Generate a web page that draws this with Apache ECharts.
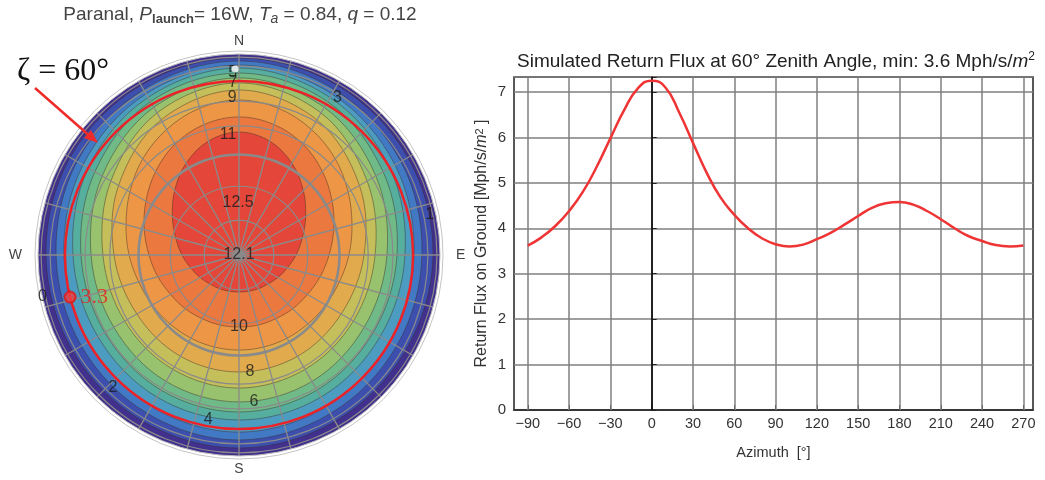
<!DOCTYPE html>
<html>
<head>
<meta charset="utf-8">
<script src="https://cdn.jsdelivr.net/npm/echarts@6/dist/echarts.min.js"></script>
<style>
  html, body { margin: 0; background: #fff; }
  #chart { width: 1045px; height: 480px; }
</style>
</head>
<body>
<div id="chart"></div>
<script>
// ---- right panel: return flux along the 60 deg zenith circle ----
const AZIMUTH = [-90, -80, -70, -60, -50, -40, -30, -20, -10, 0, 10, 20, 30, 40, 50, 60, 70, 80, 90,
  100, 110, 120, 130, 140, 150, 160, 170, 180, 190, 200, 210, 220, 230, 240, 250, 260, 270];
const FLUX = [3.62, 3.8, 4.05, 4.38, 4.8, 5.35, 5.98, 6.6, 7.08, 7.25, 7.1, 6.55, 5.88, 5.22, 4.68, 4.3, 4.0, 3.78, 3.65,
  3.6, 3.64, 3.76, 3.9, 4.08, 4.27, 4.45, 4.55, 4.58, 4.52, 4.38, 4.2, 4.0, 3.83, 3.72, 3.63, 3.6, 3.62];
const X_TICKS = [-90, -60, -30, 0, 30, 60, 90, 120, 150, 180, 210, 240, 270];

// ---- left panel: filled contours (level k = region with flux >= k),
// radius = sin(zenith); outer levels read every 30 deg of azimuth, inner ones every 15 deg ----
const AZ_30 = [0, 30, 60, 90, 120, 150, 180, 210, 240, 270, 300, 330];
const AZ_15 = [0, 15, 30, 45, 60, 75, 90, 105, 120, 135, 150, 165, 180,
  195, 210, 225, 240, 255, 270, 285, 300, 315, 330, 345];
const LEVELS = [0, 1, 2, 3, 4, 5, 6, 7, 8, 9, 10, 11];
const LEVEL_COLORS = ['#42308e', '#3c4fae', '#4279c4', '#4c9cc2', '#56ae9f', '#6fba87',
  '#98c26d', '#c5bf5b', '#e1ab4d', '#ed9646', '#eb783e', '#e4473a'];
const CONTOUR_R = [
  [1, 1, 1, 1, 1, 1, 1, 1, 1, 1, 1, 1],
  [0.980, 0.975, 0.970, 0.965, 0.955, 0.955, 0.960, 0.955, 0.955, 0.960, 0.970, 0.975],
  [0.965, 0.950, 0.930, 0.910, 0.905, 0.910, 0.920, 0.910, 0.905, 0.910, 0.930, 0.950],
  [0.945, 0.925, 0.896, 0.871, 0.866, 0.871, 0.881, 0.871, 0.866, 0.871, 0.896, 0.925],
  [0.930, 0.905, 0.866, 0.826, 0.811, 0.816, 0.821, 0.816, 0.811, 0.826, 0.866, 0.905],
  [0.905, 0.881, 0.828, 0.786, 0.771, 0.776, 0.781, 0.776, 0.771, 0.786, 0.828, 0.881],
  [0.881, 0.848, 0.786, 0.736, 0.719, 0.726, 0.731, 0.726, 0.719, 0.736, 0.786, 0.848],
  [0.856, 0.816, 0.736, 0.677, 0.657, 0.657, 0.662, 0.657, 0.657, 0.677, 0.736, 0.816],
  [0.821, 0.776, 0.692, 0.622, 0.587, 0.582, 0.582, 0.582, 0.587, 0.622, 0.692, 0.776],
  [0.771, 0.756, 0.721, 0.677, 0.627, 0.582, 0.547, 0.517, 0.498, 0.485, 0.478, 0.474, 0.473,
    0.474, 0.478, 0.485, 0.498, 0.517, 0.547, 0.582, 0.627, 0.677, 0.721, 0.756],
  [0.687, 0.672, 0.637, 0.587, 0.535, 0.488, 0.448, 0.418, 0.393, 0.378, 0.366, 0.361, 0.358,
    0.361, 0.366, 0.378, 0.393, 0.418, 0.448, 0.488, 0.535, 0.587, 0.637, 0.672],
  [0.612, 0.587, 0.527, 0.453, 0.383, 0.326, 0.284, 0.249, 0.224, 0.204, 0.194, 0.187, 0.184,
    0.187, 0.194, 0.204, 0.224, 0.249, 0.284, 0.326, 0.383, 0.453, 0.527, 0.587]
];
const GRID_ZENITH = [10, 20, 30, 40, 50, 60, 70, 80];
const ZETA = 60;

// "7" first so that "5" sits on top of it, as in the original
const LABEL_TEXT = ['7', '0', '1', '2', '3', '4', '5', '6', '8', '9', '10', '11', '12.5', '12.1'];
const LABEL_R = [0.858, 1.0, 0.971, 0.911, 0.925, 0.835, 0.906, 0.735, 0.585, 0.782, 0.358, 0.6, 0.259, 0];
const LABEL_AZ = [358, 258, 78, 223.5, 32, 190.6, 358, 174.2, 174.6, 357.5, 180, 354.8, 359, 0];

const MIN_POINT = [0.866, 256];
const MIN_TEXT = '3.3';
const TOP_POINT = [0.925, 358.8];
const COMPASS = { 0: 'N', 90: '{e|E}', 180: 'S', 270: '{w|W}' };

const chart = echarts.init(document.getElementById('chart'));
const rad = (d) => d * Math.PI / 180;

// circle of given projected radius around the pole
function circleItem(api, r, style) {
  const c = api.coord([0, 0]);
  const p = api.coord([r, 0]);
  return { type: 'circle', shape: { cx: c[0], cy: c[1], r: Math.abs(c[1] - p[1]) }, style: style };
}

const option = {
  animation: false,
  textStyle: { fontFamily: 'Liberation Sans, Arial, sans-serif' },
  polar: { center: [239, 255], radius: 201 },
  angleAxis: {
    type: 'value', min: 0, max: 360, interval: 15, startAngle: 90, clockwise: true, z: 5,
    axisLine: { show: true, lineStyle: { color: '#bdbdbd', width: 1 } },
    axisTick: { show: false },
    splitLine: { show: true, lineStyle: { color: '#8a8a8a', width: 1.3 } },
    axisLabel: {
      margin: 6, color: '#444', fontSize: 14,
      formatter: (v) => (v < 360 && COMPASS[v]) ? COMPASS[v] : '',
      rich: {
        e: { fontSize: 14, color: '#444', padding: [0, 0, 0, 10] },
        w: { fontSize: 14, color: '#444', padding: [0, 10, 0, 0] }
      }
    }
  },
  radiusAxis: { type: 'value', min: 0, max: 1, show: false },
  grid: {
    left: 514, right: 12, top: 77, bottom: 70,
    show: true, borderColor: '#222', borderWidth: 1.5
  },
  xAxis: {
    type: 'value', min: -100, max: 277,
    name: 'Azimuth  [°]', nameLocation: 'middle', nameGap: 35,
    nameTextStyle: { fontSize: 14.5, color: '#333' },
    axisLine: { lineStyle: { color: '#222', width: 1.5 } },
    axisTick: { show: true, inside: true, length: 5, customValues: X_TICKS, lineStyle: { color: '#222' } },
    axisLabel: {
      customValues: X_TICKS, fontSize: 14.5, color: '#333', margin: 6,
      formatter: (v) => v < 0 ? '\u2212' + (-v) : String(v)
    },
    splitLine: { show: false }
  },
  yAxis: {
    type: 'value', min: 0, max: 7.33, interval: 1,
    name: '{n|Return Flux on Ground [Mph/s/}{i|m}{s|2}{n| ]}',
    nameLocation: 'middle', nameGap: 24,
    nameTextStyle: {
      color: '#333',
      rich: {
        n: { fontSize: 16, color: '#333' },
        i: { fontSize: 16, color: '#333', fontStyle: 'italic' },
        s: { fontSize: 11, color: '#333', verticalAlign: 'top', lineHeight: 11 }
      }
    },
    axisLine: { show: true, lineStyle: { color: '#222', width: 1.5 } },
    axisTick: { show: true, inside: true, length: 5, lineStyle: { color: '#222' } },
    axisLabel: {
      fontSize: 15, color: '#333', margin: 8,
      formatter: (v) => Number.isInteger(v) ? String(v) : ''
    },
    splitLine: { show: true, lineStyle: { color: '#7f7f7f', width: 1.5 } }
  },
  graphic: [
    {
      type: 'text', x: 240, y: 15, z: 10,
      style: {
        text: '{n|Paranal, }{i|P}{b|launch}{n|= 16W, }{i|T}{j|a}{n| = 0.84, }{i|q}{n| = 0.12}',
        align: 'center', verticalAlign: 'middle',
        rich: {
          n: { fontSize: 19, fill: '#444', lineHeight: 22 },
          i: { fontSize: 19, fill: '#444', fontStyle: 'italic', lineHeight: 22 },
          b: { fontSize: 13, fill: '#444', fontWeight: 'bold', verticalAlign: 'bottom', lineHeight: 16 },
          j: { fontSize: 14, fill: '#444', fontStyle: 'italic', verticalAlign: 'bottom', lineHeight: 16 }
        }
      }
    },
    {
      type: 'text', x: 776, y: 62, z: 10,
      style: {
        text: '{n|Simulated Return Flux at 60° Zenith Angle, min: 3.6 Mph/s/}{i|m}{s|2}',
        align: 'center', verticalAlign: 'middle',
        rich: {
          n: { fontSize: 19, fill: '#222', lineHeight: 22 },
          i: { fontSize: 19, fill: '#222', fontStyle: 'italic', lineHeight: 22 },
          s: { fontSize: 12, fill: '#222', verticalAlign: 'top', lineHeight: 12 }
        }
      }
    },
    {
      type: 'text', x: 17, y: 72, z: 10,
      style: {
        text: 'ζ = ' + ZETA + '°', fill: '#111', verticalAlign: 'middle',
        font: '32px "Liberation Serif", "DejaVu Serif", serif'
      }
    },
    {
      type: 'line', z: 10,
      shape: { x1: 35, y1: 88, x2: 92, y2: 138 },
      style: { stroke: '#ee2a2a', lineWidth: 2.5 }
    },
    {
      type: 'polygon', z: 10,
      shape: { points: [[98, 143], [84, 138], [91, 130]] },
      style: { fill: '#ee2a2a' }
    }
  ],
  series: [
    // filled contour bands
    {
      type: 'custom', coordinateSystem: 'polar', silent: true, z: 1,
      data: LEVELS.map((lv) => [0, 0, lv]),
      renderItem: (params, api) => {
        const i = params.dataIndex;
        const rs = CONTOUR_R[i];
        const azs = rs.length === AZ_15.length ? AZ_15 : AZ_30;
        const pts = azs.map((az, j) => api.coord([rs[j], az]));
        return {
          type: 'polygon',
          shape: { points: pts, smooth: 0.35 },
          style: {
            fill: LEVEL_COLORS[i],
            stroke: i === 0 ? 'none' : 'rgba(60,45,40,0.45)',
            lineWidth: 1
          }
        };
      }
    },
    // zenith grid circles
    {
      type: 'custom', coordinateSystem: 'polar', silent: true, z: 6,
      data: GRID_ZENITH.map((z) => [0, 0, z]),
      renderItem: (params, api) => {
        const z = GRID_ZENITH[params.dataIndex];
        return circleItem(api, Math.sin(rad(z)), {
          fill: 'none', stroke: '#8a8a8a', lineWidth: z === 30 ? 2.6 : 1.2
        });
      }
    },
    // zeta circle and outer rim
    {
      type: 'custom', coordinateSystem: 'polar', silent: true, z: 7,
      data: [[0, 0, ZETA]],
      renderItem: (params, api) => {
        const c = api.coord([0, 0]);
        const p = api.coord([1, 0]);
        const R = Math.abs(c[1] - p[1]);
        return {
          type: 'group',
          children: [
            circleItem(api, Math.sin(rad(ZETA)), { fill: 'none', stroke: '#ec2228', lineWidth: 2.5 }),
            { type: 'circle', shape: { cx: c[0], cy: c[1], r: R + 3 }, style: { fill: 'none', stroke: '#c4c4c4', lineWidth: 1 } }
          ]
        };
      }
    },
    // contour labels
    {
      type: 'scatter', coordinateSystem: 'polar', silent: true, z: 8,
      symbolSize: 0,
      data: LABEL_R.map((r, i) => [r, LABEL_AZ[i]]),
      label: {
        show: true, position: 'inside', color: '#1a1a1a', fontSize: 16,
        formatter: (p) => LABEL_TEXT[p.dataIndex]
      }
    },
    // white point at the top and the minimum marker
    {
      type: 'scatter', coordinateSystem: 'polar', silent: true, z: 9,
      symbolSize: 7, itemStyle: { color: '#fff' },
      data: [TOP_POINT]
    },
    {
      type: 'scatter', coordinateSystem: 'polar', silent: true, z: 9,
      symbolSize: 11,
      itemStyle: { color: '#f04040', borderColor: '#e01818', borderWidth: 2 },
      data: [MIN_POINT],
      label: {
        show: true, position: 'right', distance: 4, formatter: MIN_TEXT,
        color: '#e82020', fontSize: 22, fontFamily: 'Liberation Serif, DejaVu Serif, serif'
      }
    },
    // right panel: vertical grid lines
    {
      type: 'line', xAxisIndex: 0, yAxisIndex: 0, z: 1, silent: true,
      data: [[-90, 0]], symbol: 'none', lineStyle: { opacity: 0 },
      markLine: {
        silent: true, symbol: 'none', label: { show: false },
        data: X_TICKS.map((v) => ({
          xAxis: v,
          lineStyle: { type: 'solid', color: v === 0 ? '#111' : '#7f7f7f', width: 1.5 }
        }))
      }
    },
    // right panel: flux curve
    {
      type: 'line', xAxisIndex: 0, yAxisIndex: 0, z: 5,
      data: AZIMUTH.map((a, i) => [a, FLUX[i]]),
      smooth: true, symbol: 'none',
      lineStyle: { color: '#ee3434', width: 2.5 }
    }
  ]
};

chart.setOption(option);
</script>
</body>
</html>
